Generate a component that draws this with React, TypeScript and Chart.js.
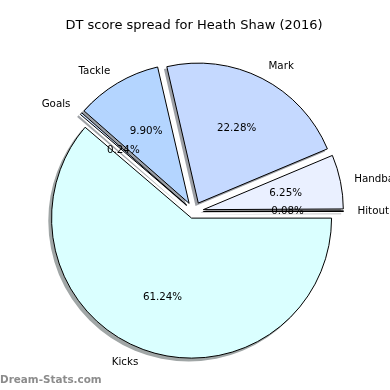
import React, { useEffect, useRef } from "react";
import { Chart, registerables } from "chart.js";

Chart.register(...registerables);

// ---- data (drawing order: clockwise from 3 o'clock) ----
const TITLE = "DT score spread for Heath Shaw (2016)";
const categories = ["Kicks", "Goals", "Tackle", "Mark", "Handball", "Hitout"];
const percentages = [61.24, 0.24, 9.9, 22.28, 6.25, 0.08];
const WATERMARK = "Dream-Stats.com";

// ---- styles ----
const COLORS = ["#DAFFFF", "#CFE3FF", "#B4D5FF", "#C5D9FF", "#EAF0FF", "#EEF2FF"];
const EXPLODE_PX = [7, 9.5, 9.5, 9.5, 9.5, 9.5];
const RADIUS = 140;
const SHADOW_DX = -2.8;
const SHADOW_DY = 2.8;
const FONT = "DejaVu Sans";

function shadowColor(hex: string): string {
  const h = hex.replace("#", "");
  const r = parseInt(h.slice(0, 2), 16);
  const g = parseInt(h.slice(2, 4), 16);
  const b = parseInt(h.slice(4, 6), 16);
  const mix = (c: number) => Math.round(0.5 * 0.3 * c + 0.5 * 255);
  return `rgb(${mix(r)},${mix(g)},${mix(b)})`;
}

const explodePlugin = {
  id: "explodeShadow",
  beforeDatasetDraw(chart: any, args: any) {
    const ctx = chart.ctx as CanvasRenderingContext2D;
    const arcs = args.meta.data;
    // shadows first
    arcs.forEach((arc: any, i: number) => {
      const p = arc.getProps(["x", "y", "startAngle", "endAngle", "outerRadius"], true);
      const mid = (p.startAngle + p.endAngle) / 2;
      const cx = p.x + Math.cos(mid) * EXPLODE_PX[i] + SHADOW_DX;
      const cy = p.y + Math.sin(mid) * EXPLODE_PX[i] + SHADOW_DY;
      ctx.save();
      ctx.beginPath();
      ctx.moveTo(cx, cy);
      ctx.arc(cx, cy, p.outerRadius + 0.5, p.startAngle, p.endAngle);
      ctx.closePath();
      ctx.fillStyle = shadowColor(COLORS[i]);
      ctx.fill();
      ctx.restore();
    });
    // wedges, translated outward
    arcs.forEach((arc: any, i: number) => {
      const p = arc.getProps(["startAngle", "endAngle"], true);
      const mid = (p.startAngle + p.endAngle) / 2;
      ctx.save();
      ctx.translate(Math.cos(mid) * EXPLODE_PX[i], Math.sin(mid) * EXPLODE_PX[i]);
      arc.draw(ctx, chart.chartArea);
      ctx.restore();
    });
    return false;
  },
  afterDatasetsDraw(chart: any) {
    const ctx = chart.ctx as CanvasRenderingContext2D;
    const meta = chart.getDatasetMeta(0);
    ctx.save();
    ctx.fillStyle = "#000";
    ctx.font = `10.3px "${FONT}"`;
    ctx.textBaseline = "middle";
    meta.data.forEach((arc: any, i: number) => {
      const p = arc.getProps(["x", "y", "startAngle", "endAngle", "outerRadius"], true);
      const mid = (p.startAngle + p.endAngle) / 2;
      const cx = p.x + Math.cos(mid) * EXPLODE_PX[i];
      const cy = p.y + Math.sin(mid) * EXPLODE_PX[i];
      const r = p.outerRadius;
      // category label
      const lx = cx + Math.cos(mid) * r * 1.1;
      const ly = cy + Math.sin(mid) * r * 1.1;
      ctx.textAlign = Math.cos(mid) > 0 ? "left" : "right";
      ctx.fillText(chart.data.labels[i], lx, ly);
      // percentage
      const px = cx + Math.cos(mid) * r * 0.6;
      const py = cy + Math.sin(mid) * r * 0.6;
      ctx.textAlign = "center";
      const v = chart.data.datasets[0].data[i] as number;
      ctx.fillText(`${v.toFixed(2)}%`, px, py);
    });
    // watermark
    ctx.font = `bold 10.4px "${FONT}"`;
    ctx.fillStyle = "#8c8c8c";
    ctx.textAlign = "left";
    ctx.fillText(WATERMARK, 0, 380);
    ctx.restore();
  },
};

export default function App() {
  const ref = useRef<HTMLCanvasElement | null>(null);
  useEffect(() => {
    if (!ref.current) return;
    const chart = new Chart(ref.current, {
      type: "pie",
      data: {
        labels: categories,
        datasets: [
          {
            data: percentages,
            backgroundColor: COLORS,
            borderColor: "#000",
            borderWidth: 1,
            radius: RADIUS,
            rotation: 90,
          } as any,
        ],
      },
      options: {
        animation: false,
        responsive: false,
        devicePixelRatio: 1,
        rotation: 90,
        radius: RADIUS,
        layout: { padding: { left: 0, right: 2, top: 0, bottom: 0 } },
        plugins: {
          legend: { display: false },
          tooltip: { enabled: false },
          title: {
            display: true,
            text: TITLE,
            color: "#000",
            font: { family: FONT, size: 13, weight: "normal" },
            padding: { top: 17.5, bottom: 0 },
          },
        },
      } as any,
      plugins: [explodePlugin as any],
    });
    return () => chart.destroy();
  }, []);
  return (
    <div style={{ position: "fixed", left: 0, top: 0, width: 390, height: 390, background: "#fff" }}>
      <canvas ref={ref} width={390} height={390} />
    </div>
  );
}
